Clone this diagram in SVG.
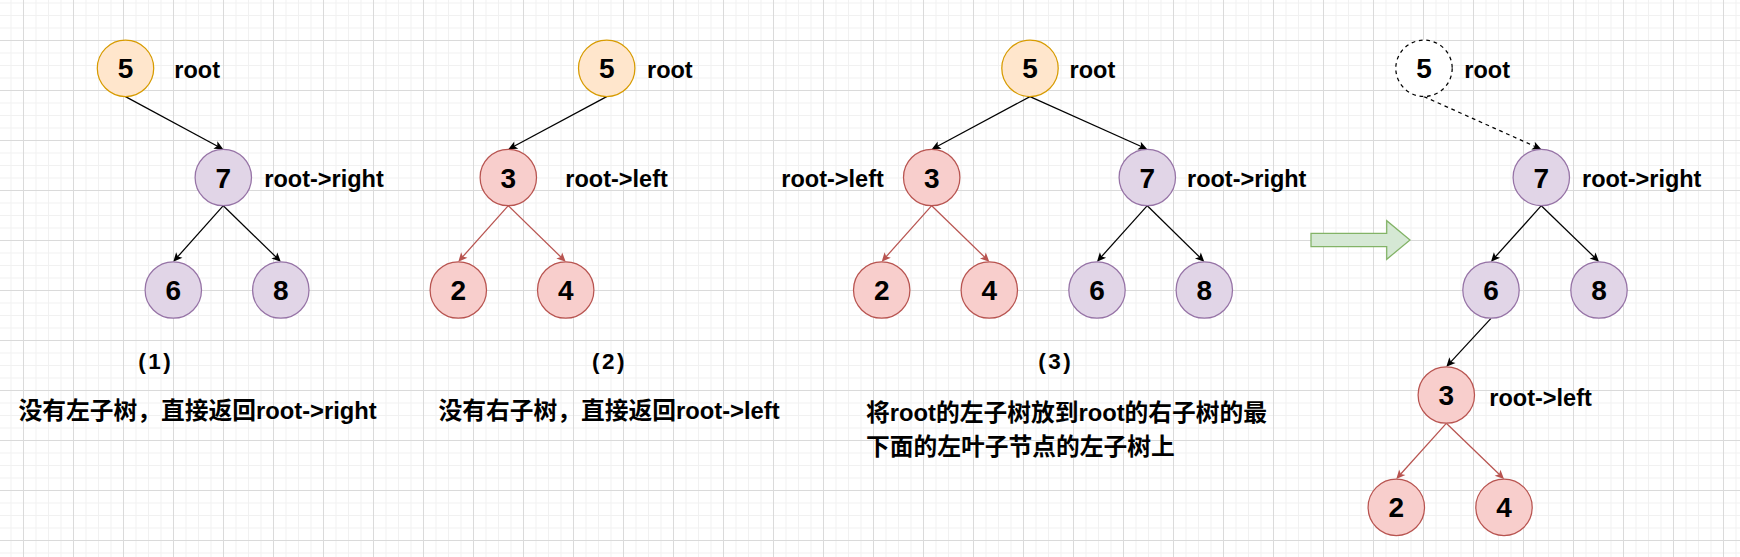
<svg xmlns="http://www.w3.org/2000/svg" width="1740" height="557" viewBox="0 0 1740 557">
<style>
.orange{fill:#ffe6cc;stroke:#d79b00;stroke-width:1.25}
.purple{fill:#e1d5e7;stroke:#9673a6;stroke-width:1.25}
.red{fill:#f8cecc;stroke:#b85450;stroke-width:1.25}
.ghost{fill:#ffffff;stroke:#000;stroke-width:1.25;stroke-dasharray:3.75 3.75}
.num{font-family:"Liberation Sans",Arial,sans-serif;font-weight:bold;font-size:28px;text-anchor:middle;fill:#000}
.lbl{font-family:"Liberation Sans",Arial,sans-serif;font-weight:bold;font-size:23.5px;fill:#000}
.cap{font-family:"Liberation Sans",Arial,sans-serif;font-weight:bold;font-size:22.5px;letter-spacing:2.5px;text-anchor:middle;fill:#000}
.zh{font-family:"Liberation Sans","Noto Sans CJK SC",sans-serif;font-weight:bold;font-size:23.75px;fill:#000}
.e{fill:none;stroke:#000;stroke-width:1.25;marker-end:url(#ab)}
.er{fill:none;stroke:#b85450;stroke-width:1.25;marker-end:url(#ar)}
.ed{fill:none;stroke:#000;stroke-width:1.25;stroke-dasharray:3.75 3.75;marker-end:url(#ab)}
</style>
<defs>
<pattern id="grid" patternUnits="userSpaceOnUse" x="23" y="40" width="50" height="50">
<path d="M13 0V50M25.5 0V50M38 0V50M0 13H50M0 25.5H50M0 38H50" stroke="#f1f1f1" stroke-width="1" fill="none"/>
<path d="M0.5 0V50M0 0.5H50" stroke="#dadada" stroke-width="1" fill="none"/>
</pattern>
<marker id="ab" markerUnits="userSpaceOnUse" orient="auto" refX="0" refY="0" markerWidth="20" markerHeight="20" overflow="visible">
<path d="M6,0 L-3,-4.2 L-0.8,0 L-3,4.2 Z" fill="#000"/>
</marker>
<marker id="ar" markerUnits="userSpaceOnUse" orient="auto" refX="0" refY="0" markerWidth="20" markerHeight="20" overflow="visible">
<path d="M6,0 L-3,-4.2 L-0.8,0 L-3,4.2 Z" fill="#b85450"/>
</marker>
</defs>
<rect width="1740" height="557" fill="#ffffff"/>
<rect width="1740" height="557" fill="url(#grid)"/>

<g id="connectors">
<path class="e" d="M125.5 96.6L218 146.45"/>
<path class="e" d="M223.3 205.7L177.3 257.2"/>
<path class="e" d="M223.3 205.7L276.5 257.5"/>

<path class="e" d="M606.7 96.6L513.6 146.5"/>
<path class="er" d="M508.3 205.7L462.3 257.2"/>
<path class="er" d="M508.3 205.7L561.4 257.5"/>

<path class="e" d="M1030 96.6L937 146.5"/>
<path class="e" d="M1030 96.6L1141.8 146.8"/>
<path class="er" d="M931.7 205.7L885.7 257.2"/>
<path class="er" d="M931.7 205.7L985 257.5"/>
<path class="e" d="M1147.3 205.7L1101 257.2"/>
<path class="e" d="M1147.3 205.7L1200 257.5"/>

<path class="ed" d="M1424 96.6L1535.8 146.8"/>
<path class="e" d="M1541.3 205.7L1495 257.2"/>
<path class="e" d="M1541.3 205.7L1594.7 257.5"/>
<path class="e" d="M1491 318.3L1450.4 362.3"/>
<path class="er" d="M1446.3 423.3L1400.3 474.5"/>
<path class="er" d="M1446.3 423.3L1499.7 474.8"/>
</g>

<g id="p1-n5"><circle class="orange" cx="125.5" cy="68.3" r="28.2"/><text class="num" x="125.5" y="78.3">5</text></g>
<g id="p1-n7"><circle class="purple" cx="223.3" cy="177.5" r="28.2"/><text class="num" x="223.3" y="187.5">7</text></g>
<g id="p1-n6"><circle class="purple" cx="173.3" cy="290" r="28.2"/><text class="num" x="173.3" y="300">6</text></g>
<g id="p1-n8"><circle class="purple" cx="280.8" cy="290" r="28.2"/><text class="num" x="280.8" y="300">8</text></g>

<g id="p2-n5"><circle class="orange" cx="606.7" cy="68.3" r="28.2"/><text class="num" x="606.7" y="78.3">5</text></g>
<g id="p2-n3"><circle class="red" cx="508.3" cy="177.5" r="28.2"/><text class="num" x="508.3" y="187.5">3</text></g>
<g id="p2-n2"><circle class="red" cx="458.3" cy="290" r="28.2"/><text class="num" x="458.3" y="300">2</text></g>
<g id="p2-n4"><circle class="red" cx="565.7" cy="290" r="28.2"/><text class="num" x="565.7" y="300">4</text></g>

<g id="p3-n5"><circle class="orange" cx="1030" cy="68.3" r="28.2"/><text class="num" x="1030" y="78.3">5</text></g>
<g id="p3-n3"><circle class="red" cx="931.7" cy="177.5" r="28.2"/><text class="num" x="931.7" y="187.5">3</text></g>
<g id="p3-n7"><circle class="purple" cx="1147.3" cy="177.5" r="28.2"/><text class="num" x="1147.3" y="187.5">7</text></g>
<g id="p3-n2"><circle class="red" cx="881.7" cy="290" r="28.2"/><text class="num" x="881.7" y="300">2</text></g>
<g id="p3-n4"><circle class="red" cx="989.3" cy="290" r="28.2"/><text class="num" x="989.3" y="300">4</text></g>
<g id="p3-n6"><circle class="purple" cx="1097" cy="290" r="28.2"/><text class="num" x="1097" y="300">6</text></g>
<g id="p3-n8"><circle class="purple" cx="1204.3" cy="290" r="28.2"/><text class="num" x="1204.3" y="300">8</text></g>

<g id="p4-n5"><circle class="ghost" cx="1424" cy="68.3" r="28.2"/><text class="num" x="1424" y="78.3">5</text></g>
<g id="p4-n7"><circle class="purple" cx="1541.3" cy="177.5" r="28.2"/><text class="num" x="1541.3" y="187.5">7</text></g>
<g id="p4-n6"><circle class="purple" cx="1491" cy="290" r="28.2"/><text class="num" x="1491" y="300">6</text></g>
<g id="p4-n8"><circle class="purple" cx="1599" cy="290" r="28.2"/><text class="num" x="1599" y="300">8</text></g>
<g id="p4-n3"><circle class="red" cx="1446.3" cy="395" r="28.2"/><text class="num" x="1446.3" y="405">3</text></g>
<g id="p4-n2"><circle class="red" cx="1396.3" cy="507.3" r="28.2"/><text class="num" x="1396.3" y="517.3">2</text></g>
<g id="p4-n4"><circle class="red" cx="1504" cy="507.3" r="28.2"/><text class="num" x="1504" y="517.3">4</text></g>

<g id="transform-arrow"><polygon points="1311,233.3 1386.7,233.3 1386.7,220.7 1410,240 1386.7,259.3 1386.7,246.7 1311,246.7" fill="#d5e8d4" stroke="#82b366" stroke-width="1.25"/></g>

<g id="labels">
<text class="lbl" x="174.3" y="78">root</text>
<text class="lbl" x="264.3" y="187">root-&gt;right</text>
<text class="lbl" x="647" y="78">root</text>
<text class="lbl" x="565.3" y="187">root-&gt;left</text>
<text class="lbl" x="1069.6" y="78">root</text>
<text class="lbl" x="781.3" y="187">root-&gt;left</text>
<text class="lbl" x="1187" y="187">root-&gt;right</text>
<text class="lbl" x="1464.3" y="78">root</text>
<text class="lbl" x="1582" y="187">root-&gt;right</text>
<text class="lbl" x="1489.3" y="405.5">root-&gt;left</text>
</g>

<g id="captions">
<text class="cap" x="155.7" y="369">(1)</text>
<text class="cap" x="609.4" y="369">(2)</text>
<text class="cap" x="1055.7" y="369">(3)</text>
<text class="zh" x="18.5" y="419">没有左子树，直接返回root-&gt;right</text>
<text class="zh" x="438.5" y="419">没有右子树，直接返回root-&gt;left</text>
<text class="zh" x="866" y="420.5">将root的左子树放到root的右子树的最</text>
<text class="zh" x="866" y="454.5">下面的左叶子节点的左子树上</text>
</g>
</svg>
